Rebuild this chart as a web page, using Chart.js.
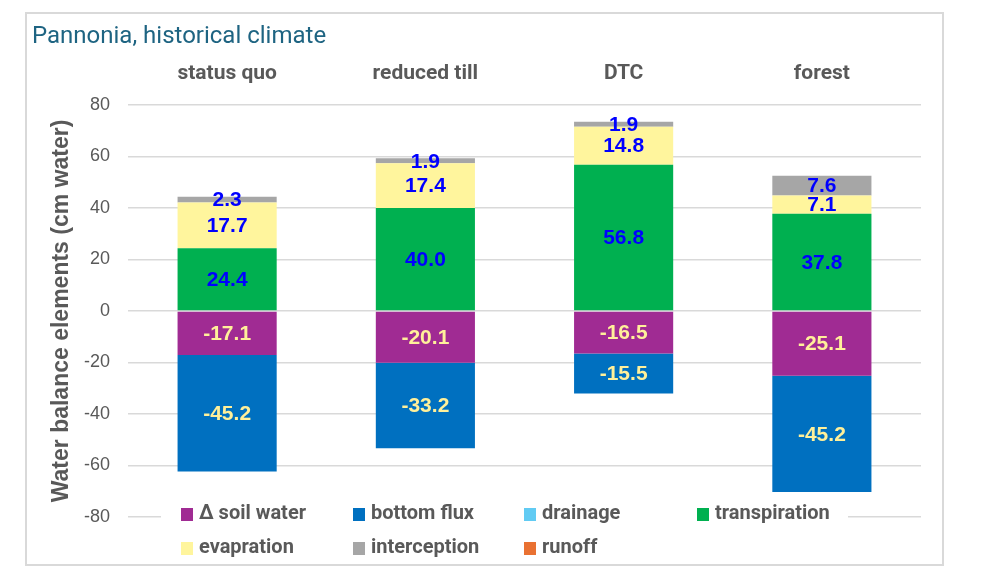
<!DOCTYPE html>
<html>
<head>
<meta charset="utf-8">
<script src="https://cdn.jsdelivr.net/npm/chart.js@4.4.1/dist/chart.umd.min.js"></script>
<style>
  body { margin: 0; background: #fff; }
  #box {
    position: absolute; left: 25px; top: 12px;
    width: 915px; height: 550px;
    border: 2px solid #d9d9d9;
  }
  canvas { display: block; }
</style>
</head>
<body>
<div id="box"><canvas id="chart" width="915" height="550"></canvas></div>
<script>
const categories = ["status quo", "reduced till", "DTC", "forest"];
const seriesNames = ["\u0394 soil water", "bottom flux", "drainage", "transpiration", "evapration", "interception", "runoff"];

const soilWater     = [-17.1, -20.1, -16.5, -25.1];
const bottomFlux    = [-45.2, -33.2, -15.5, -45.2];
const drainage      = [0, 0, 0, 0];
const transpiration = [24.4, 40.0, 56.8, 37.8];
const evapration    = [17.7, 17.4, 14.8, 7.1];
const interception  = [2.3, 1.9, 1.9, 7.6];
const runoff        = [0, 0, 0, 0];

const colors = ["#a02b93", "#0070c0", "#61cbf3", "#00b050", "#fff59d", "#a6a6a6", "#e97132"];
const seriesData = [soilWater, bottomFlux, drainage, transpiration, evapration, interception, runoff];

const grey = "#595959";

// value labels centred in each segment
const segmentLabels = {
  id: "segmentLabels",
  afterDatasetsDraw(chart) {
    const ctx = chart.ctx;
    ctx.save();
    ctx.font = "bold 21px 'Liberation Sans', Arial, sans-serif";
    ctx.textAlign = "center";
    ctx.textBaseline = "middle";
    chart.data.datasets.forEach((ds, i) => {
      const meta = chart.getDatasetMeta(i);
      meta.data.forEach((bar, j) => {
        const v = ds.data[j];
        if (!v) return;
        const p = bar.getProps(["x", "y", "base"], true);
        ctx.fillStyle = v > 0 ? "#0000ff" : "#fff09a";
        ctx.fillText(v.toFixed(1), p.x, (p.y + p.base) / 2 + 1);
      });
    });
    ctx.restore();
  }
};

// legend drawn over the bottom of the plot, like the Excel original
const overlayLegend = {
  id: "overlayLegend",
  afterDraw(chart) {
    const ctx = chart.ctx;
    const colX = [154, 326, 497, 670];
    const rowY = [500, 534];
    ctx.save();
    ctx.fillStyle = "#fff";
    ctx.fillRect(134, 486, 687, 64);
    ctx.font = "bold 20px Roboto, sans-serif";
    ctx.textBaseline = "middle";
    chart.data.datasets.forEach((ds, i) => {
      const x = colX[i % 4], y = rowY[Math.floor(i / 4)];
      ctx.fillStyle = ds.backgroundColor;
      ctx.fillRect(x, y - 6, 12, 13);
      ctx.fillStyle = grey;
      ctx.fillText(ds.label, x + 18, y);
    });
    ctx.restore();
  }
};

new Chart(document.getElementById("chart"), {
  type: "bar",
  data: {
    labels: categories,
    datasets: seriesNames.map((name, i) => ({
      label: name,
      data: seriesData[i],
      backgroundColor: colors[i],
      borderWidth: 0,
      barPercentage: 0.5,
      categoryPercentage: 1
    }))
  },
  options: {
    responsive: false,
    animation: false,
    layout: { padding: { left: 5, right: 21, top: 0, bottom: 47 } },
    scales: {
      x: {
        position: "top",
        stacked: true,
        grid: { display: false, drawTicks: false },
        border: { display: false },
        ticks: { color: grey, padding: 19, font: { family: "Roboto", size: 21, weight: "bold" } },
        afterFit(scale) { scale.height = 49.2; }
      },
      y: {
        stacked: true,
        min: -80,
        max: 80,
        ticks: { stepSize: 20, color: grey, padding: 18, font: { family: "'Liberation Sans', Arial", size: 18 } },
        grid: { color: "#d9d9d9", lineWidth: 1.5, drawTicks: false },
        border: { display: false },
        title: {
          display: true,
          text: "Water balance elements (cm water)",
          color: grey,
          padding: { top: 16, bottom: 0 },
          font: { family: "'Liberation Sans', Arial", size: 23, weight: "bold" }
        },
        afterFit(scale) { scale.width = 96; }
      }
    },
    plugins: {
      legend: { display: false },
      tooltip: { enabled: false },
      title: {
        display: true,
        text: "Pannonia, historical climate",
        align: "start",
        color: "#1e6482",
        padding: { top: 9, bottom: 4 },
        font: { family: "Roboto", size: 24, weight: "normal" }
      }
    }
  },
  plugins: [segmentLabels, overlayLegend]
});
</script>
</body>
</html>
